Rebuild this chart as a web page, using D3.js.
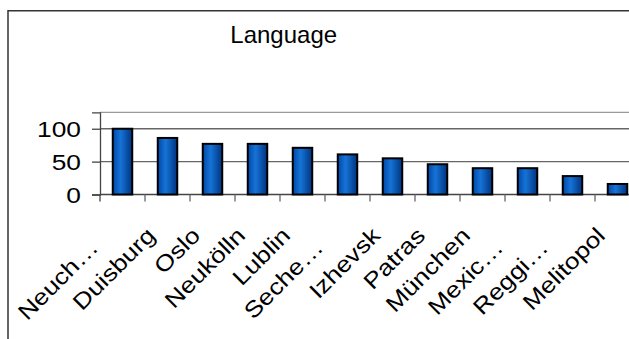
<!DOCTYPE html>
<html>
<head>
<meta charset="utf-8">
<script src="https://cdn.jsdelivr.net/npm/d3@7/dist/d3.min.js"></script>
<style>
  html, body { margin: 0; padding: 0; background: #fff; }
  svg { display: block; font-family: Arial, "Liberation Sans", sans-serif; }
</style>
</head>
<body>
<svg id="chart" width="629" height="339"></svg>
<script>
// Category names and their values
const categories = ["Neuch…", "Duisburg", "Oslo", "Neukölln", "Lublin", "Seche…",
                    "Izhevsk", "Patras", "München", "Mexic…", "Reggi…", "Melitopol"];
const values = [100, 86, 77, 77, 71, 61, 55, 46, 40, 40, 28, 16];
const yTicks = [0, 50, 100];
const title = "Language";

const svg = d3.select("#chart");

// Plot area geometry
const plotLeft = 100, plotRight = 640, plotTop = 112.3, plotBottom = 194.5;

const x = d3.scaleBand()
  .domain(categories)
  .range([plotLeft, plotRight])
  .paddingInner(0.567)
  .paddingOuter(0.2835);

const y = d3.scaleLinear().domain([0, 125]).range([plotBottom, plotTop]);

// Bar gradient
const defs = svg.append("defs");
const grad = defs.append("linearGradient").attr("id", "barFill")
  .attr("x1", "0%").attr("x2", "100%").attr("y1", "0%").attr("y2", "0%");
grad.append("stop").attr("offset", "0%").attr("stop-color", "#0048a8");
grad.append("stop").attr("offset", "40%").attr("stop-color", "#1673d6");
grad.append("stop").attr("offset", "100%").attr("stop-color", "#003380");

// Outer frame (left and top edges)
svg.append("path")
  .attr("d", `M8,339V10.8H629`)
  .attr("fill", "none").attr("stroke", "#333").attr("stroke-width", 1.5);

// Title
svg.append("text")
  .attr("x", 283.7).attr("y", 43.3)
  .attr("text-anchor", "middle")
  .attr("font-size", 24)
  .attr("fill", "#000")
  .text(title);

// Plot area top border
svg.append("line")
  .attr("x1", plotLeft).attr("x2", 629).attr("y1", plotTop).attr("y2", plotTop)
  .attr("stroke", "#999").attr("stroke-width", 1.3);

// Horizontal gridlines
svg.append("g").selectAll("line")
  .data(yTicks.filter(d => d > 0))
  .join("line")
  .attr("x1", plotLeft).attr("x2", 629)
  .attr("y1", d => y(d)).attr("y2", d => y(d))
  .attr("stroke", "#666").attr("stroke-width", 1.3);

// Y axis
const yAxis = svg.append("g")
  .attr("transform", `translate(${plotLeft},0)`)
  .call(d3.axisLeft(y).tickValues(yTicks).tickSize(8).tickPadding(12).tickFormat(d3.format("d")));
yAxis.select(".domain").attr("stroke", "#444").attr("stroke-width", 1.3);
yAxis.selectAll(".tick line").attr("stroke", "#444").attr("stroke-width", 1.3);
yAxis.selectAll(".tick text")
  .attr("font-size", 22.5)
  .attr("font-family", "Arial, 'Liberation Sans', sans-serif")
  .attr("fill", "#000")
  .attr("dy", null)
  .attr("x", null)
  .attr("transform", "translate(-19,8) scale(1.17,1)")
  .attr("text-anchor", "end");

// Extend the value axis line down to the category tick length
svg.append("line")
  .attr("x1", plotLeft).attr("x2", plotLeft).attr("y1", plotBottom).attr("y2", plotBottom + 7)
  .attr("stroke", "#444").attr("stroke-width", 1.3);

// Category axis line and boundary ticks
svg.append("line")
  .attr("x1", plotLeft).attr("x2", 629).attr("y1", plotBottom).attr("y2", plotBottom)
  .attr("stroke", "#444").attr("stroke-width", 1.3);
const step = x.step();
svg.append("g").selectAll("line")
  .data(categories.slice(1))
  .join("line")
  .attr("x1", d => x(d) - (step - x.bandwidth()) / 2)
  .attr("x2", d => x(d) - (step - x.bandwidth()) / 2)
  .attr("y1", plotBottom).attr("y2", plotBottom + 7)
  .attr("stroke", "#666").attr("stroke-width", 1.3);

// Bars
svg.append("g").selectAll("rect")
  .data(values)
  .join("rect")
  .attr("x", (d, i) => x(categories[i]))
  .attr("width", x.bandwidth())
  .attr("y", d => y(d))
  .attr("height", d => y(0) - y(d))
  .attr("fill", "url(#barFill)")
  .attr("stroke", "#000")
  .attr("stroke-width", 2);

// Rotated category labels
svg.append("g").selectAll("text")
  .data(categories)
  .join("text")
  .attr("transform", d => {
    const cx = x(d) + x.bandwidth() / 2;
    return `translate(${cx - 11},237) rotate(-45) scale(1.17,1)`;
  })
  .attr("dx", d => d.endsWith("…") ? -14.5 : 0)
  .attr("text-anchor", "end")
  .attr("font-size", 22.5)
  .attr("fill", "#000")
  .text(d => d);
</script>
</body>
</html>
